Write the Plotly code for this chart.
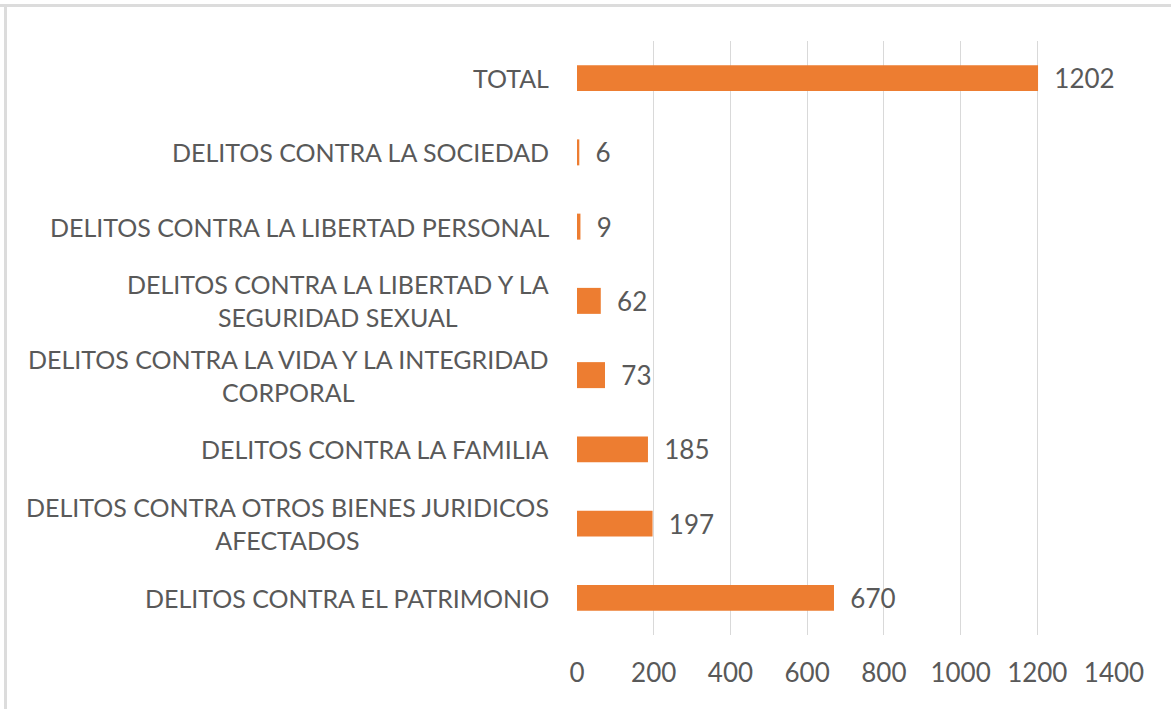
"""Horizontal bar chart: delitos por tipo."""

import plotly.graph_objects as go

# data (bottom to top)
CATEGORIES = [
    "DELITOS CONTRA EL PATRIMONIO",
    "DELITOS CONTRA OTROS BIENES JURIDICOS<br>AFECTADOS",
    "DELITOS CONTRA LA FAMILIA",
    "DELITOS CONTRA LA VIDA Y LA INTEGRIDAD<br>CORPORAL",
    "DELITOS CONTRA LA LIBERTAD Y LA<br>SEGURIDAD SEXUAL",
    "DELITOS CONTRA LA LIBERTAD PERSONAL",
    "DELITOS CONTRA LA SOCIEDAD",
    "TOTAL",
]
VALUES = [670, 197, 185, 73, 62, 9, 6, 1202]
X_TICKS = [0, 200, 400, 600, 800, 1000, 1200, 1400]

W, H = 1171, 709
L, R, T, B = 577, 57, 41, 74
FONT = "Lato"
GREY = "#595959"
ORANGE = "#ED7D31"

fig = go.Figure(
    go.Bar(
        x=VALUES,
        y=CATEGORIES,
        orientation="h",
        marker=dict(color=ORANGE, line=dict(width=0)),
        width=0.35,
        text=VALUES,
        texttemplate="\u00a0\u00a0%{x}",
        textposition="outside",
        constraintext="none",
        outsidetextfont=dict(family=FONT, size=26, color=GREY),
        cliponaxis=False,
        hoverinfo="skip",
    )
)

# category labels as centred, wrapped text to the left of the plot
for cat in CATEGORIES:
    fig.add_annotation(
        x=0, xref="paper", y=cat, yref="y",
        text=cat, showarrow=False,
        xanchor="right", yanchor="middle", align="center",
        xshift=-26,
        font=dict(family=FONT, size=25, color=GREY),
    )


def px_x(x):
    return (x - L) / (W - L - R)


def px_y(y):
    return (H - B - y) / (H - T - B)


# light frame on top and left edges
fig.add_shape(type="line", xref="paper", yref="paper",
              x0=px_x(0), x1=px_x(W), y0=px_y(5.5), y1=px_y(5.5),
              line=dict(color="#dcdcdc", width=3), layer="below")
fig.add_shape(type="line", xref="paper", yref="paper",
              x0=px_x(5.5), x1=px_x(5.5), y0=px_y(4), y1=px_y(H),
              line=dict(color="#dcdcdc", width=3), layer="below")

fig.update_xaxes(
    range=[0, 1400],
    tickvals=X_TICKS,
    showgrid=True, gridcolor="#d9d9d9", gridwidth=1.3,
    zeroline=False, showline=False,
    ticks="outside", ticklen=15, tickcolor="rgba(0,0,0,0)",
    tickfont=dict(family=FONT, size=26, color=GREY),
)
fig.update_yaxes(
    showticklabels=False, showgrid=False, zeroline=False,
    categoryorder="array", categoryarray=CATEGORIES,
)
fig.update_layout(
    width=W, height=H,
    margin=dict(l=L, r=R, t=T, b=B),
    paper_bgcolor="white", plot_bgcolor="white",
    showlegend=False,
    bargap=0.65,
)

# drop the default page margin so the figure sits at the window origin
fig.write_html(
    "out.html",
    config={"displayModeBar": False},
    post_script="document.body.style.margin='0';",
)
